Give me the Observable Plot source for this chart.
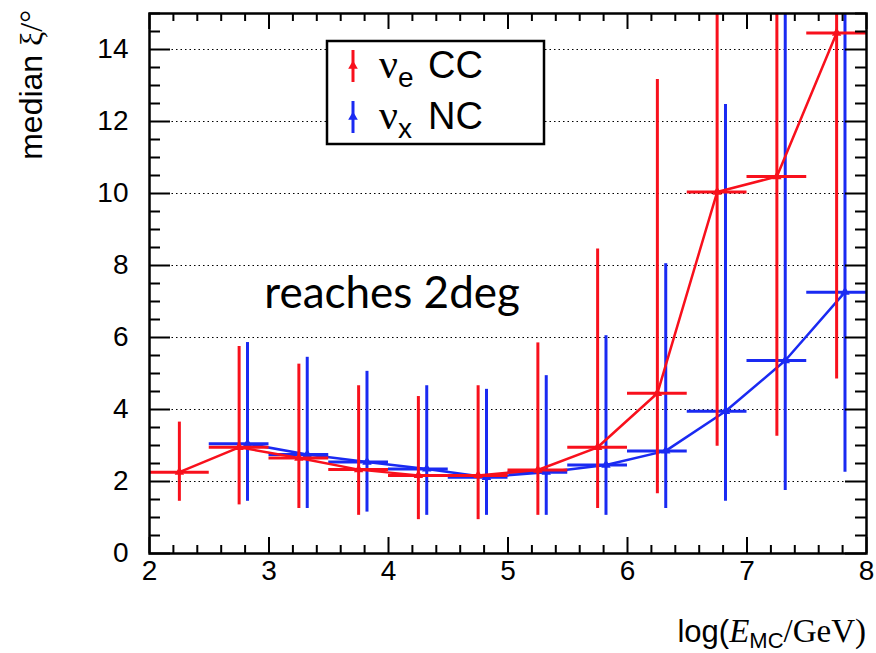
<!DOCTYPE html>
<html><head><meta charset="utf-8">
<script src="https://cdn.jsdelivr.net/npm/d3@7"></script>
<script src="https://cdn.jsdelivr.net/npm/@observablehq/plot@0.6"></script>
<style>body{margin:0;background:#fff}#chart{width:876px;height:653px}</style>
</head><body><div id="chart"></div>
<script>
// ---- data ----
const ccBins = [2.25, 2.75, 3.25, 3.75, 4.25, 4.75, 5.25, 5.75, 6.25, 6.75, 7.25, 7.75];
const ccMedian = [2.26, 2.95, 2.65, 2.33, 2.17, 2.17, 2.32, 2.95, 4.45, 10.04, 10.47, 14.46];
const ccLow = [1.45, 1.35, 1.25, 1.06, 0.94, 0.94, 1.06, 1.25, 1.66, 2.98, 3.26, 4.85];
const ccHigh = [3.65, 5.75, 5.26, 4.66, 4.36, 4.66, 5.85, 8.46, 13.17, 20, 20, 20];

const ncBins = [2.75, 3.25, 3.75, 4.25, 4.75, 5.25, 5.75, 6.25, 6.75, 7.25, 7.75];
const ncMedian = [3.05, 2.75, 2.54, 2.35, 2.12, 2.26, 2.46, 2.85, 3.95, 5.36, 7.26];
const ncLow = [1.45, 1.25, 1.15, 1.06, 1.06, 1.06, 1.06, 1.25, 1.45, 1.75, 2.26];
const ncHigh = [5.86, 5.45, 5.06, 4.66, 4.56, 4.94, 6.05, 8.05, 12.47, 20, 20];

const xTicks = [2, 3, 4, 5, 6, 7, 8];
const yTicks = [0, 2, 4, 6, 8, 10, 12, 14];
const gridY = [2, 4, 6, 8, 10, 12, 14];
const annotation = [{x: 4.03, y: 7.2, text: "reaches 2deg"}];

// ---- build ----
const W = 876, H = 653, mL = 149, mR = 10, mT = 13, mB = 100;
const plotW = W - mL - mR, plotH = H - mT - mB;
const red = "#f8101c", blue = "#1a2af2";
const halfBin = 0.25, ncShift = 0.07;
const cc = ccBins.map((b, i) => ({b, x: b, y: ccMedian[i], lo: ccLow[i], hi: ccHigh[i]}));
const nc = ncBins.map((b, i) => ({b, x: b + ncShift, y: ncMedian[i], lo: ncLow[i], hi: ncHigh[i]}));
const xMinor = d3.range(2, 8.001, 0.2).filter(v => Math.abs(v - Math.round(v)) > 1e-6);
const yMinor = d3.range(0, 15.001, 0.5).filter(v => Math.abs(v / 2 - Math.round(v / 2)) > 1e-6);

function series(data, color) {
  return [
    Plot.line(data, {x: "x", y: "y", stroke: color, strokeWidth: 2.5, clip: "frame"}),
    Plot.ruleX(data, {x: "x", y1: "lo", y2: "hi", stroke: color, strokeWidth: 3, clip: "frame"}),
    Plot.ruleY(data, {y: "y", x1: d => d.b - halfBin, x2: d => d.b + halfBin, stroke: color, strokeWidth: 3, clip: "frame"}),
    Plot.dot(data, {x: "x", y: "y", symbol: "triangle", r: 3.5, fill: color, stroke: null})
  ];
}

const plot = Plot.plot({
  width: W, height: H,
  marginLeft: mL, marginRight: mR, marginTop: mT, marginBottom: mB,
  style: {background: "#fff", fontFamily: "Liberation Sans, Arial, sans-serif"},
  x: {domain: [2, 8], axis: null},
  y: {domain: [0, 15], axis: null},
  marks: [
    Plot.ruleY(gridY, {y: d => d, stroke: "#000", strokeWidth: 1, strokeDasharray: "1.5,3"}),
    ...series(nc, blue),
    ...series(cc, red),
    // ticks (inward, on all four sides)
    Plot.tickX(xTicks, {x: d => d, insetTop: plotH - 16, strokeWidth: 2}),
    Plot.tickX(xMinor, {x: d => d, insetTop: plotH - 8, strokeWidth: 2}),
    Plot.tickX(xTicks, {x: d => d, insetBottom: plotH - 16, strokeWidth: 2}),
    Plot.tickX(xMinor, {x: d => d, insetBottom: plotH - 8, strokeWidth: 2}),
    Plot.tickY(yTicks, {y: d => d, insetRight: plotW - 21, strokeWidth: 2}),
    Plot.tickY(yMinor, {y: d => d, insetRight: plotW - 11, strokeWidth: 2}),
    Plot.tickY(yTicks, {y: d => d, insetLeft: plotW - 21, strokeWidth: 2}),
    Plot.tickY(yMinor, {y: d => d, insetLeft: plotW - 11, strokeWidth: 2}),
    Plot.frame({stroke: "#000", strokeWidth: 2.5}),
    // tick labels
    Plot.text(xTicks, {x: d => d, frameAnchor: "bottom", dy: 26, text: d => String(d), fontSize: 28, fill: "#000"}),
    Plot.text(yTicks, {y: d => d, frameAnchor: "left", dx: -21, textAnchor: "end", text: d => String(d), fontSize: 28, fill: "#000"}),
    // annotation
    Plot.text(annotation, {x: "x", y: "y", text: "text", fontSize: 44, fontFamily: "Lato, 'Open Sans', sans-serif", fill: "#000"})
  ]
});
document.getElementById("chart").appendChild(plot);

// ---- axis titles and legend ----
const svg = d3.select(plot);
// y title
const yt = svg.append("text")
  .attr("transform", "translate(42,10) rotate(-90)")
  .attr("text-anchor", "end").attr("font-size", 32).attr("fill", "#000")
  .attr("font-family", "Liberation Sans, Arial, sans-serif");
yt.append("tspan").text("median ");
yt.append("tspan").attr("font-family", "Liberation Serif, serif").text("ξ/°");

// x title
const xt = svg.append("text")
  .attr("x", 866).attr("y", 642).attr("text-anchor", "end").attr("fill", "#000")
  .attr("font-size", 31).attr("font-family", "Liberation Sans, Arial, sans-serif");
xt.append("tspan").text("log(");
xt.append("tspan").attr("font-family", "Liberation Serif, serif").attr("font-style", "italic").attr("font-size", 33).text("E");
xt.append("tspan").attr("font-size", 22).attr("dy", 6).text("MC");
xt.append("tspan").attr("font-family", "Liberation Serif, serif").attr("font-size", 33).attr("dy", -6).text("/GeV)");

// legend
const lg = svg.append("g");
lg.append("rect").attr("x", 327).attr("y", 41).attr("width", 217).attr("height", 103)
  .attr("fill", "#fff").attr("stroke", "#000").attr("stroke-width", 2.5);
const entries = [
  {color: red, sub: "e", label: "CC", y: 66},
  {color: blue, sub: "x", label: "NC", y: 117}
];
entries.forEach(e => {
  lg.append("line").attr("x1", 353).attr("x2", 353).attr("y1", e.y - 16).attr("y2", e.y + 16)
    .attr("stroke", e.color).attr("stroke-width", 3);
  lg.append("path").attr("d", d3.symbol(d3.symbolTriangle, 40)()).attr("transform", `translate(353,${e.y})`).attr("fill", e.color);
  const t = lg.append("text").attr("x", 379).attr("y", e.y + 12).attr("font-size", 38).attr("fill", "#000")
    .attr("text-anchor", "start")
    .attr("font-family", "Liberation Sans, Arial, sans-serif");
  t.append("tspan").attr("font-family", "Liberation Serif, serif").attr("font-size", 42).text("ν");
  t.append("tspan").attr("font-size", 28).attr("dy", 9).text(e.sub);
  t.append("tspan").attr("dy", -9).attr("x", 428).text(e.label);
});
</script>
</body></html>
